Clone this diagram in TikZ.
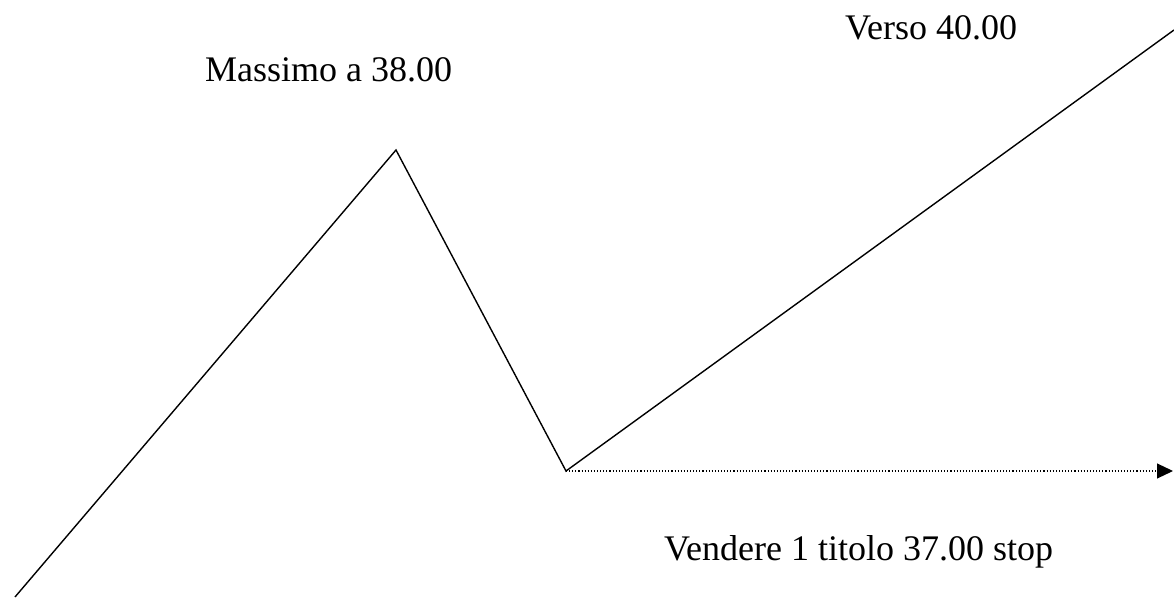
\documentclass[tikz,border=0pt]{standalone}
\usepackage{fontspec}
\setmainfont{Liberation Serif}
\usetikzlibrary{arrows.meta}
\begin{document}
\begin{tikzpicture}[x=1pt,y=1pt,
  lbl/.style={anchor=base west,inner sep=0pt,font=\fontsize{36}{40}\selectfont},
  price/.style={line width=1.4pt,line join=miter},
  stopline/.style={line width=1.1pt,dotted,-{Triangle[length=16pt,width=15pt]}}]
\useasboundingbox (0,0) rectangle (1174,597);
\coordinate (start) at (15,0);
\coordinate (peak) at (396,447);
\coordinate (trough) at (566,126);
\coordinate (top) at (1174,567);
\coordinate (arrowend) at (1173,126);
\draw[price] (start) -- (peak) -- (trough) -- (top);
\draw[stopline] (trough) -- (arrowend);
\node[lbl] (massimo) at (205,515) {Massimo a 38.00};
\node[lbl] (verso) at (845,557) {Verso 40.00};
\node[lbl] (vendere) at (664,37) {Vendere 1 titolo 37.00 stop};
\end{tikzpicture}
\end{document}
